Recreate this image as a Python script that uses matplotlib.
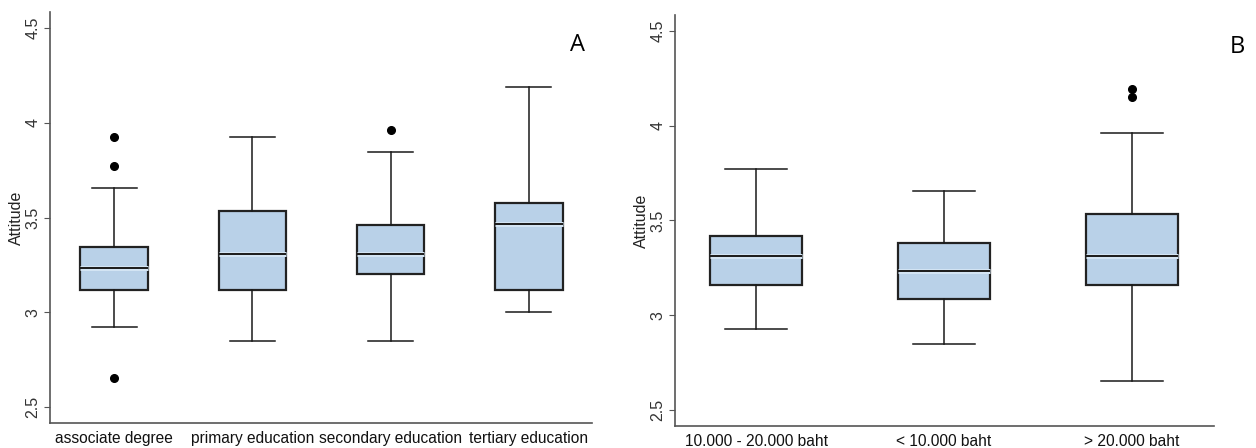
import matplotlib.pyplot as plt
import matplotlib.patheffects as pe

# panel A: education level
edu_labels = ["associate degree", "primary education", "secondary education", "tertiary education"]
edu_q1 = [3.12, 3.12, 3.20, 3.12]
edu_med = [3.235, 3.31, 3.31, 3.465]
edu_q3 = [3.345, 3.535, 3.46, 3.575]
edu_wlo = [2.925, 2.85, 2.85, 3.00]
edu_whi = [3.655, 3.925, 3.845, 4.19]
edu_fliers = [[3.925, 3.77, 2.655], [], [3.963], []]

# panel B: income
inc_labels = ["10.000 - 20.000 baht", "< 10.000 baht", "> 20.000 baht"]
inc_q1 = [3.16, 3.085, 3.16]
inc_med = [3.31, 3.235, 3.31]
inc_q3 = [3.42, 3.38, 3.535]
inc_wlo = [2.925, 2.85, 2.655]
inc_whi = [3.77, 3.655, 3.963]
inc_fliers = [[], [], [4.195, 4.15]]

box_col = "#b9d1e8"
edge = "#1a1a1a"


def make_stats(labels, q1, med, q3, wlo, whi, fl):
    return [dict(label=l, q1=a, med=b, q3=c, whislo=d, whishi=e, fliers=f)
            for l, a, b, c, d, e, f in zip(labels, q1, med, q3, wlo, whi, fl)]


def draw_panel(ax, stats, letter, letter_xy, xlim):
    n = len(stats)
    ax.bxp(stats, positions=range(1, n + 1), widths=0.49, capwidths=0.325,
           patch_artist=True, showfliers=True,
           boxprops=dict(facecolor=box_col, edgecolor="#222222", linewidth=1.6),
           medianprops=dict(color=edge, linewidth=1.4,
                            path_effects=[pe.Stroke(linewidth=3.6, foreground="#d3e4f3"), pe.Normal()]),
           whiskerprops=dict(color=edge, linewidth=1.1),
           capprops=dict(color=edge, linewidth=1.1),
           flierprops=dict(marker="o", markerfacecolor="black", markeredgecolor="black",
                           markersize=5.5))
    ax.set_xlim(*xlim)
    ax.set_ylim(2.417, 4.584)
    ax.set_yticks([2.5, 3, 3.5, 4, 4.5])
    ax.set_yticklabels(["2.5", "3", "3.5", "4", "4.5"], rotation=90, va="center")
    ax.set_ylabel("Attitude", fontsize=11.5, labelpad=1, color="#222222")
    for s in ["top", "right"]:
        ax.spines[s].set_visible(False)
    for s in ["left", "bottom"]:
        ax.spines[s].set_color("#555555")
        ax.spines[s].set_linewidth(1.2)
    ax.tick_params(axis="y", length=4, color="#555555", labelsize=11.5, labelcolor="#333333", pad=3)
    ax.tick_params(axis="x", length=0, labelsize=11.2, labelcolor="#111111", pad=6)
    ax.text(letter_xy[0], letter_xy[1], letter, transform=ax.figure.transFigure,
            fontsize=17, family="Open Sans", ha="center", va="center")


plt.rcParams["font.family"] = ["Liberation Sans", "DejaVu Sans"]
fig = plt.figure(figsize=(12.56, 4.48), dpi=100)
ax1 = fig.add_axes([50 / 1256, 1 - 423 / 448, 542 / 1256, 411 / 448])
ax2 = fig.add_axes([675 / 1256, 1 - 425.7 / 448, 539 / 1256, 410.7 / 448])

draw_panel(ax1, make_stats(edu_labels, edu_q1, edu_med, edu_q3, edu_wlo, edu_whi, edu_fliers),
           "A", (577 / 1256, 1 - 45 / 448), (0.536, 4.457))
draw_panel(ax2, make_stats(inc_labels, inc_q1, inc_med, inc_q3, inc_wlo, inc_whi, inc_fliers),
           "B", (1237 / 1256, 1 - 47 / 448), (0.569, 3.436))

fig.savefig("out.png", dpi=100)
